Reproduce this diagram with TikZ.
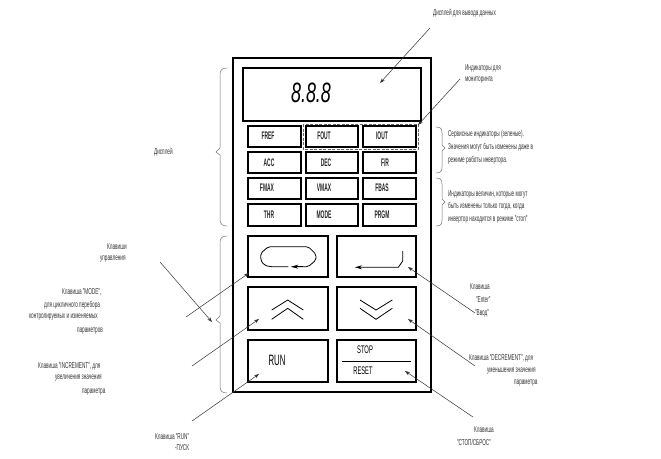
\documentclass[tikz,border=0pt]{standalone}
\usepackage{fontspec}
\setmainfont{Liberation Sans}
\usetikzlibrary{arrows.meta}
\definecolor{txt}{gray}{0.2}
\tikzset{
 x=1pt,y=-1pt,
 panel/.style={draw=black,line width=1.5pt,fill=white},
 keyb/.style={draw=black,line width=1.3pt},
 keyl/.style={font=\fontsize{11}{11}\selectfont\bfseries,text=black!85,xscale=.45,inner sep=0,outer sep=0},
 lbl/.style={font=\fontsize{8.5}{9}\selectfont,text=txt,xscale=.55,inner sep=0,anchor=west},
 pointer/.style={draw=black!80,line width=.5pt,-{Stealth[length=5pt,width=3.5pt]}},
 brc/.style={draw=black!55,line width=.5pt,line cap=round},
 icon/.style={draw=black,line width=.8pt}
}
\newcommand{\myrbrc}[4]{% x, ytop, ymid, ybot (opening left)
 \draw[brc] (#1,#2) .. controls (#1+5,#2) and (#1+6,#2+2) .. (#1+6,#2+6) -- (#1+6,#3-3) -- (#1+9,#3) -- (#1+6,#3+3) -- (#1+6,#4-6) .. controls (#1+6,#4-2) and (#1+5,#4) .. (#1,#4);}
\newcommand{\mylbrc}[4]{% x, ytop, ymid, ybot (opening right)
 \draw[brc] (#1,#2) .. controls (#1-5,#2) and (#1-7,#2+2) .. (#1-7,#2+7) -- (#1-7,#3-4) -- (#1-11,#3) -- (#1-7,#3+3) -- (#1-7,#4-7) .. controls (#1-7,#4-2) and (#1-5,#4) .. (#1,#4);}
\begin{document}
\begin{tikzpicture}
\useasboundingbox[fill=white] (0,0) rectangle (661,458);
% panel
\path[panel] (233,58) rectangle (431,392);
\path[keyb] (243,68) rectangle (421,121);
\node[font=\fontsize{28}{28}\selectfont\itshape,xscale=.64,inner sep=0] (digits) at (311,93) {8.8.8};
% indicator keys
\foreach \cx/\w/\cy/\h in {
 248/53/126/21, 306/52/126/21, 363/53/126/21,
 248/53/152/21, 306/52/152/21, 363/53/152/21,
 248/53/178/21, 306/52/178/21, 363/53/178/21,
 248/53/204/22, 306/52/204/22, 363/53/204/22}{
 \path[keyb] (\cx,\cy) rectangle ++(\w,\h);
}
\node[keyl] (tfref) at (268,136) {FREF};
\node[keyl] (tfout) at (324,136) {FOUT};
\node[keyl] (tiout) at (382,136) {IOUT};
\node[keyl] (tacc) at (269,163) {ACC};
\node[keyl] (tdec) at (326,163) {DEC};
\node[keyl] (tfir) at (385,163) {F/R};
\node[keyl] (tfmax) at (267,188) {FMAX};
\node[keyl] (tvmax) at (324,188) {VMAX};
\node[keyl] (tfbas) at (382,188) {FBAS};
\node[keyl] (tthr) at (269,215) {THR};
\node[keyl] (tmode) at (324,215) {MODE};
\node[keyl] (tprgm) at (382,215) {PRGM};
\draw[black!60,line width=.6pt,dash pattern=on 3pt off 1.5pt] (303,124) rectangle (418,149);
% large keys
\path[keyb] (248,236) rectangle (328,277);
\path[keyb] (337,236) rectangle (416,277);
\path[keyb] (248,287) rectangle (328,330);
\path[keyb] (337,287) rectangle (416,330);
\path[keyb] (248,340) rectangle (328,382);
\path[keyb] (337,340) rectangle (416,382);
% icons
\draw[icon,rounded corners=2pt] (288.3,266.7) -- (270,266.7) -- (264,265) -- (260.7,260) -- (260.7,253.3) -- (268.3,246.7) -- (308.3,246.7) -- (316,254.3) -- (316,260) -- (308.3,266.7) -- (291.7,266.7);
\draw[icon,-{Stealth[length=7pt,width=4pt]}] (303,266.7) -- (291.2,266.7);
\draw[icon,-{Stealth[length=7pt,width=4pt]}] (402.7,251) -- (402.7,261) -- (398.3,267.3) -- (355,267.3);
\draw[icon] (271.7,310) -- (287.7,300) -- (303.3,310);
\draw[icon] (271.7,319.3) -- (287.7,308.3) -- (303.3,319.3);
\draw[icon] (360,300) -- (376,310) -- (392.3,300);
\draw[icon] (360,308.3) -- (376,319.3) -- (392.3,308.3);
\node[font=\fontsize{15}{15}\selectfont,xscale=.52,inner sep=0] (run) at (277,360) {RUN};
\node[font=\fontsize{11}{11}\selectfont,xscale=.53,inner sep=0] (stop) at (365,350) {STOP};
\node[font=\fontsize{11}{11}\selectfont,xscale=.52,inner sep=0] (reset) at (363,371) {RESET};
\draw[black,line width=1pt] (342,361) -- (411,361);
% braces
\mylbrc{227}{68}{152}{226}
\mylbrc{227}{236}{320}{393}
\myrbrc{436}{127}{148}{173}
\myrbrc{436}{178}{202}{226}
% labels
\node[lbl] (l1) at (433,13) {Дисплей для вывода данных};
\node[lbl] (l2) at (465,68) {Индикаторы для};
\node[lbl] (l3) at (465,80) {мониторинга};
\node[lbl] (l4) at (448,134) {Сервисные индикаторы (зеленые).};
\node[lbl] (l5) at (448,147) {Значения могут быть изменены даже в};
\node[lbl] (l6) at (448,160) {режиме работы инвертора.};
\node[lbl] (l7) at (448,194) {Индикаторы величин, которые могут};
\node[lbl] (l8) at (448,206) {быть изменены только тогда, когда};
\node[lbl] (l9) at (448,219) {инвертор находится в режиме "стоп"};
\node[lbl] (l10) at (154,152) {Дисплей};
\node[lbl] (l11) at (107,247) {Клавиши};
\node[lbl] (l12) at (100,259) {управления};
\node[lbl] (l13) at (62,292) {Клавиша "MODE",};
\node[lbl] (l14) at (44,305) {для цикличного перебора};
\node[lbl] (l15) at (29,317) {контролируемых и изменяемых};
\node[lbl] (l16) at (77,331) {параметров};
\node[lbl] (l17) at (38,366) {Клавиша "INCREMENT", для};
\node[lbl] (l18) at (55,378) {увеличения значения};
\node[lbl] (l19) at (82,392) {параметра};
\node[lbl] (l20) at (155,437) {Клавиша "RUN"};
\node[lbl] (l21) at (175,448) {-ПУСК};
\node[lbl] (l22) at (470,287) {Клавиша};
\node[lbl] (l23) at (476,300) {"Enter"};
\node[lbl] (l24) at (475,313) {"Ввод"};
\node[lbl] (l25) at (469,358) {Клавиша "DECREMENT", для};
\node[lbl] (l26) at (487,371) {уменьшения значения};
\node[lbl] (l27) at (514,383) {параметра};
\node[lbl] (l28) at (474,430) {Клавиша};
\node[lbl] (l29) at (457,442) {"СТОП/СБРОС"};
% connector ends
\coordinate (p1a) at (430,28); \coordinate (p1b) at (380,83);
\coordinate (p2a) at (460,79); \coordinate (p2b) at (418,125);
\coordinate (p3a) at (160,262); \coordinate (p3b) at (212,322);
\coordinate (p4a) at (186,317); \coordinate (p4b) at (249,273);
\coordinate (p5a) at (192,366); \coordinate (p5b) at (259,319);
\coordinate (p6a) at (192,421); \coordinate (p6b) at (259,374);
\coordinate (p7a) at (475,313); \coordinate (p7b) at (408,267);
\coordinate (p8a) at (475,366); \coordinate (p8b) at (408,319);
\coordinate (p9a) at (473,417); \coordinate (p9b) at (405,371);
\foreach \s/\e in {p1a/p1b,p2a/p2b,p3a/p3b,p4a/p4b,p5a/p5b,p6a/p6b,p7a/p7b,p8a/p8b,p9a/p9b}
 \draw[pointer] (\s) -- (\e);
\end{tikzpicture}
\end{document}
